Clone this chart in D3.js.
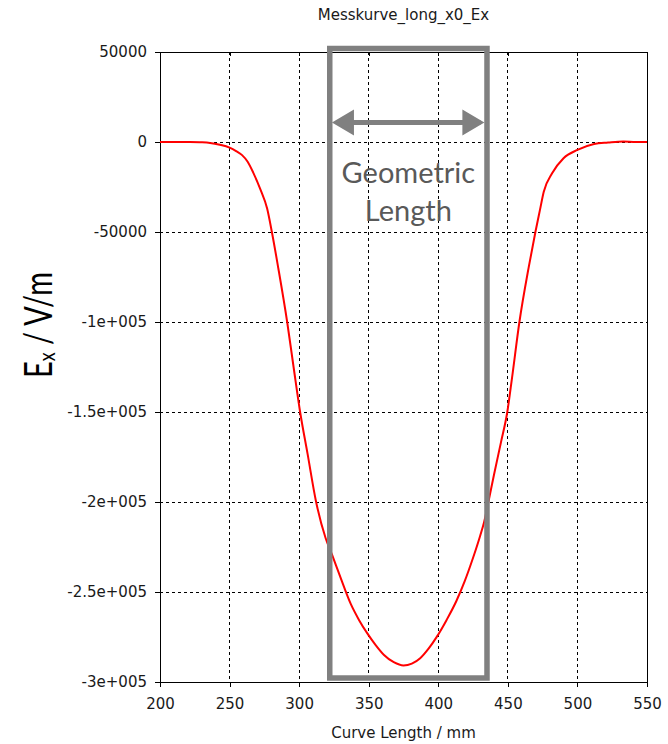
<!DOCTYPE html>
<html lang="de">
<head>
    <meta charset="UTF-8">
    <title>Messkurve_long_x0_Ex</title>
    <script src="https://d3js.org/d3.v7.min.js"></script>
    <style>
        body { margin: 0; background: #fff; }
        .axis text {
            font-family: "DejaVu Sans", sans-serif;
            font-size: 15px;
            fill: #1a1a1a;
        }
        .axis path, .axis line {
            stroke: #000;
            shape-rendering: crispEdges;
        }
        .grid line {
            stroke: #000;
            stroke-dasharray: 3,3;
            shape-rendering: crispEdges;
        }
    </style>
</head>
<body>
<svg width="668" height="744"></svg>
<script>
    // Messkurve: Kurvenlänge in mm
    const curveLength = [200, 210, 220, 230, 236, 243, 250, 255, 259, 263, 267, 272, 277, 280.4,
        285, 291.4, 296, 300.7, 306, 312.2, 319, 323.5, 329.5, 337, 343, 349, 355, 361, 368,
        375, 381, 387, 393, 399, 406, 413, 419, 425, 430, 433, 436, 440, 445, 449.6, 453,
        458.3, 465, 469.8, 473, 475.8, 481.8, 490, 500, 512, 522, 533, 542, 550];
    // Ex in V/m
    const exValues = [0, 0, -50, -200, -500, -1500, -3100, -5200, -7300, -11000, -17000, -26000, -37000, -50000,
        -70000, -100000, -125000, -150000, -173000, -200000, -220000, -229000, -241500, -256500, -265500, -273000, -279500, -285000, -289000,
        -290800, -289800, -286800, -281500, -274800, -265500, -255000, -244000, -231000, -219000, -211000, -200000, -185000, -167000, -150000, -131000,
        -100000, -69500, -50000, -38000, -27600, -17400, -9000, -4400, -1100, -300, 300, 0, 0];

    const xTicks = [200, 250, 300, 350, 400, 450, 500, 550];
    const yTicks = [50000, 0, -50000, -100000, -150000, -200000, -250000, -300000];
    const yTickLabels = ["50000", "0", "-50000", "-1e+005", "-1.5e+005", "-2e+005", "-2.5e+005", "-3e+005"];

    // geometrische Länge (Markierung)
    const geoStart = 322, geoEnd = 435;

    const data = curveLength.map((d, i) => ({x: d, y: exValues[i]}));

    const margin = {top: 52, right: 21, bottom: 62, left: 160},
          width = 668 - margin.left - margin.right,
          height = 744 - margin.top - margin.bottom;

    const x = d3.scaleLinear().domain([200, 550]).range([0, width]);
    const y = d3.scaleLinear().domain([-300000, 50000]).range([height, 0]);

    const root = d3.select("svg");

    // Titel
    root.append("text")
        .attr("x", margin.left + width / 2)
        .attr("y", 20)
        .attr("text-anchor", "middle")
        .style("font-family", "DejaVu Sans, sans-serif")
        .style("font-size", "15px")
        .style("fill", "#1a1a1a")
        .text("Messkurve_long_x0_Ex");

    const svg = root.append("g")
        .attr("transform", "translate(" + margin.left + "," + margin.top + ")");

    // Gitter
    svg.append("g").attr("class", "grid")
        .selectAll("line")
        .data(xTicks.slice(1, -1))
        .enter().append("line")
        .attr("x1", d => x(d)).attr("x2", d => x(d))
        .attr("y1", 0).attr("y2", height);

    svg.append("g").attr("class", "grid")
        .selectAll("line")
        .data(yTicks.slice(1, -1))
        .enter().append("line")
        .attr("x1", 0).attr("x2", width)
        .attr("y1", d => y(d)).attr("y2", d => y(d));

    // Achsen
    svg.append("g")
        .attr("class", "axis")
        .attr("transform", "translate(0," + height + ")")
        .call(d3.axisBottom(x).tickValues(xTicks).tickSize(5).tickSizeOuter(0).tickPadding(11));

    svg.append("g")
        .attr("class", "axis")
        .call(d3.axisLeft(y).tickValues(yTicks).tickFormat((d, i) => yTickLabels[i])
            .tickSize(5).tickSizeOuter(0).tickPadding(8));

    svg.append("g")
        .attr("class", "axis")
        .call(d3.axisBottom(x).tickValues(xTicks).tickSize(4).tickSizeOuter(0).tickFormat(""));

    svg.append("g")
        .attr("class", "axis")
        .attr("transform", "translate(" + width + ",0)")
        .call(d3.axisRight(y).tickValues([]).tickSizeOuter(0));

    // Kurve
    svg.append("path")
        .datum(data)
        .attr("fill", "none")
        .attr("stroke", "#ff0000")
        .attr("stroke-width", 2)
        .attr("d", d3.line().x(d => x(d.x)).y(d => y(d.y)).curve(d3.curveMonotoneX));

    // Rahmen für geometrische Länge
    const gx0 = x(geoStart), gx1 = x(geoEnd);
    svg.append("rect")
        .attr("x", gx0)
        .attr("y", -3.5)
        .attr("width", gx1 - gx0)
        .attr("height", height - 0.5)
        .attr("fill", "none")
        .attr("stroke", "#808080")
        .attr("stroke-width", 5.5);

    // Doppelpfeil
    const ay = y(0) - 19.5;
    const tipL = gx0 + 2.2, tipR = gx1 - 2.6, head = 22, hw = 13;
    svg.append("line")
        .attr("x1", tipL + 4).attr("x2", tipR - 4)
        .attr("y1", ay).attr("y2", ay)
        .attr("stroke", "#808080")
        .attr("stroke-width", 5);
    svg.append("path")
        .attr("fill", "#808080")
        .attr("d", "M" + tipL + "," + ay + "L" + (tipL + head) + "," + (ay - hw) + "L" + (tipL + head) + "," + (ay + hw) + "Z" +
                   "M" + tipR + "," + ay + "L" + (tipR - head) + "," + (ay - hw) + "L" + (tipR - head) + "," + (ay + hw) + "Z");

    const cx = (gx0 + gx1) / 2;
    svg.append("text")
        .attr("x", cx).attr("y", ay + 60)
        .attr("text-anchor", "middle")
        .style("font-family", "Lato, sans-serif")
        .style("font-size", "29px")
        .style("fill", "#595959")
        .text("Geometric");
    svg.append("text")
        .attr("x", cx).attr("y", ay + 98)
        .attr("text-anchor", "middle")
        .style("font-family", "Lato, sans-serif")
        .style("font-size", "29px")
        .style("fill", "#595959")
        .text("Length");

    // Achsentitel
    root.append("text")
        .attr("x", margin.left + width / 2)
        .attr("y", 738)
        .attr("text-anchor", "middle")
        .style("font-family", "DejaVu Sans, sans-serif")
        .style("font-size", "15px")
        .style("fill", "#1a1a1a")
        .text("Curve Length / mm");

    const yLabel = root.append("text")
        .attr("text-anchor", "middle")
        .style("font-family", "Lato, sans-serif")
        .style("font-size", "39px")
        .style("fill", "#000");
    yLabel.append("tspan").text("E");
    yLabel.append("tspan").attr("dy", 3).style("font-size", "24px").text("x");
    yLabel.append("tspan").attr("dy", -3).text(" / V/m");
    const len = yLabel.node().getComputedTextLength();
    yLabel.attr("transform", "translate(52,325) rotate(-90) scale(" + (106 / len) + ",1)");
</script>
</body>
</html>
